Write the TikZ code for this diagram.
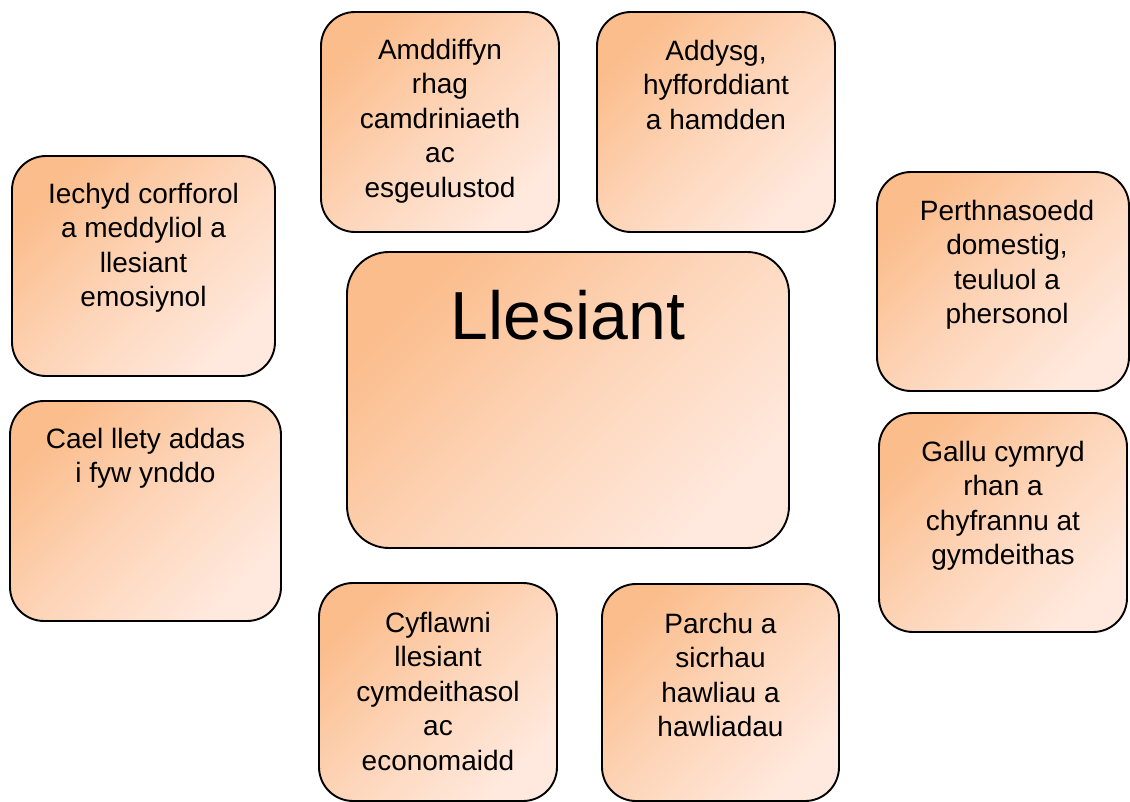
\documentclass[tikz,border=0pt]{standalone}
\usepackage{fontspec}
\setmainfont{Liberation Sans}
\usetikzlibrary{positioning}
\definecolor{boxtop}{RGB}{251,189,140}
\definecolor{boxbot}{RGB}{255,233,222}
\tikzset{
  box/.style={draw=black, line width=1.9pt, rounded corners=34pt,
    top color=boxtop, bottom color=boxbot, middle color=boxtop!45!boxbot,
    shading angle=45,
    inner sep=0pt, outer sep=0pt},
  bigbox/.style={box, rounded corners=42pt},
  lbl/.style={align=center, font=\fontsize{28}{34.5}\selectfont, inner sep=0pt, text=black},
  biglbl/.style={align=center, font=\fontsize{68}{80}\selectfont, inner sep=0pt, text=black}
}
\begin{document}
\begin{tikzpicture}[x=1pt,y=-1pt]
\useasboundingbox (0,0) rectangle (1130,802);
% boxes
\node[box, minimum width=263pt, minimum height=220pt] (a) at (143.5,266) {};
\node[box, minimum width=271pt, minimum height=220pt] (b) at (145.5,511) {};
\node[box, minimum width=238pt, minimum height=220pt] (c) at (440,122) {};
\node[box, minimum width=238pt, minimum height=220pt] (d) at (716,122) {};
\node[bigbox, minimum width=442pt, minimum height=296pt] (e) at (568,400) {};
\node[box, minimum width=252pt, minimum height=219pt] (f) at (1003,281.5) {};
\node[box, minimum width=248pt, minimum height=219pt] (g) at (1003,522.5) {};
\node[box, minimum width=238pt, minimum height=218pt] (h) at (438,692) {};
\node[box, minimum width=237pt, minimum height=217pt] (i) at (720.5,692.5) {};
% texts
\node[lbl, below=27pt of a.north] (ta) {Iechyd corfforol\\a meddyliol a\\llesiant\\emosiynol};
\node[lbl, below=27pt of b.north] (tb) {Cael llety addas\\i fyw ynddo};
\node[lbl, below=27pt of c.north] (tc) {Amddiffyn\\rhag\\camdriniaeth\\ac\\esgeulustod};
\node[lbl, below=28pt of d.north] (td) {Addysg,\\hyfforddiant\\a hamdden};
\node[biglbl, below=38pt of e.north] (te) {Llesiant};
\node[lbl, below=28pt of f.north, xshift=4pt] (tf) {Perthnasoedd\\domestig,\\teuluol a\\phersonol};
\node[lbl, below=28pt of g.north] (tg) {Gallu cymryd\\rhan a\\chyfrannu at\\gymdeithas};
\node[lbl, below=29pt of h.north] (th) {Cyflawni\\llesiant\\cymdeithasol\\ac\\economaidd};
\node[lbl, below=29pt of i.north] (ti) {Parchu a\\sicrhau\\hawliau a\\hawliadau};
\end{tikzpicture}
\end{document}
